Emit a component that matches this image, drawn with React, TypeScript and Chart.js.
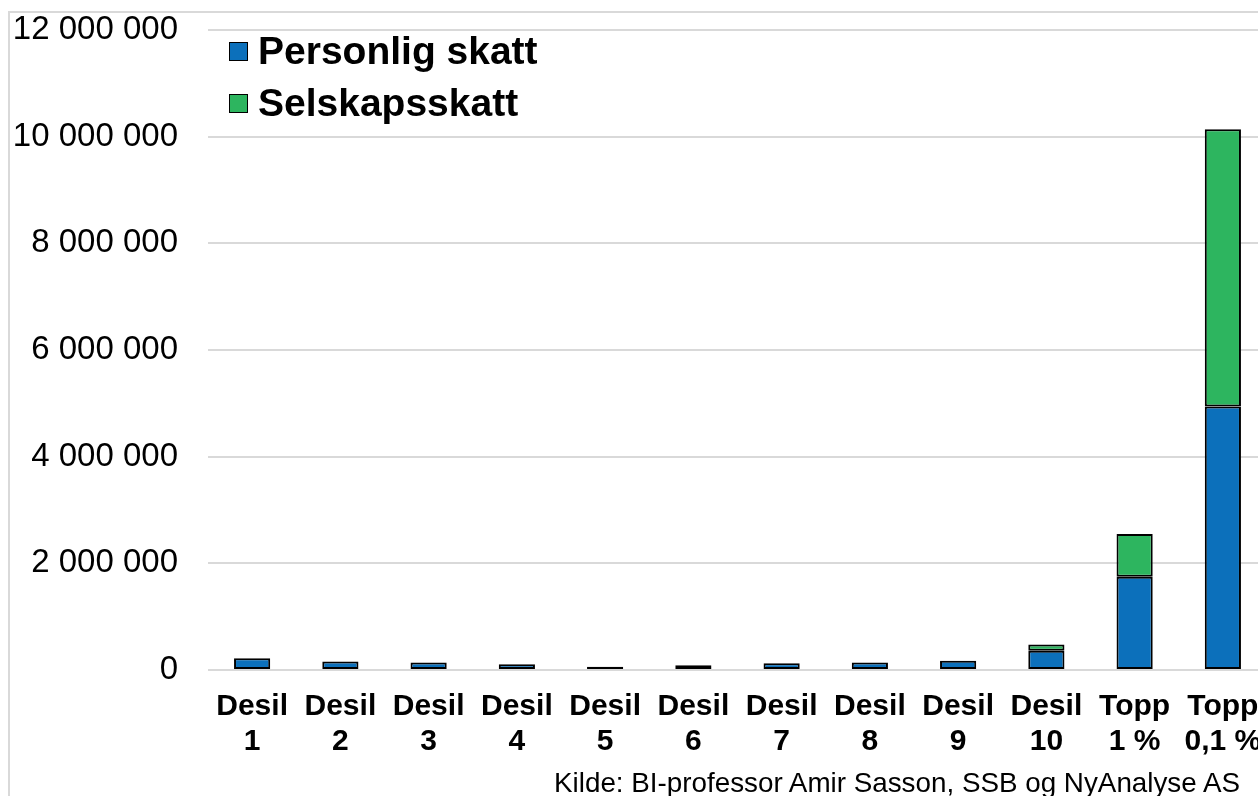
import React, { useEffect, useRef } from "react";
import { Chart, registerables } from "chart.js";

Chart.register(...registerables);

const categories: string[][] = [
  ["Desil", "1"], ["Desil", "2"], ["Desil", "3"], ["Desil", "4"], ["Desil", "5"], ["Desil", "6"],
  ["Desil", "7"], ["Desil", "8"], ["Desil", "9"], ["Desil", "10"], ["Topp", "1 %"], ["Topp", "0,1 %"],
];
const personligSkatt: (number | null)[] = [220000, 160000, 140000, 110000, 60000, 90000, 125000, 140000, 175000, 360000, 1750000, 4940000];
const selskapsskatt: (number | null)[] = [null, null, null, null, null, null, null, null, null, 120000, 800000, 5200000];
const seriesNames = ["Personlig skatt", "Selskapsskatt"];
const seriesColors = ["#0c70bb", "#2db55f"];
const yMax = 12000000;
const yStep = 2000000;
const sourceText = "Kilde: BI-professor Amir Sasson, SSB og NyAnalyse AS";

const FONT = '"Liberation Sans", Arial, sans-serif';
const CANVAS_W = 1300;
const CANVAS_H = 796;
const PLOT_LEFT = 208;
const PLOT_RIGHT = 1267;
const PLOT_TOP = 30;
const PLOT_BOTTOM = 670;

export default function App() {
  const ref = useRef<HTMLCanvasElement | null>(null);

  useEffect(() => {
    document.body.style.margin = "0";
    document.body.style.overflow = "hidden";
    const canvas = ref.current;
    if (!canvas) return;
    const chart = new Chart(canvas, {
      type: "bar",
      data: {
        labels: categories,
        datasets: [
          {
            label: seriesNames[0],
            data: personligSkatt,
            backgroundColor: seriesColors[0],
            borderColor: "#000000",
            borderWidth: 2,
            borderSkipped: false,
          },
          {
            label: seriesNames[1],
            data: selskapsskatt,
            backgroundColor: seriesColors[1],
            borderColor: "#000000",
            borderWidth: 2,
            borderSkipped: false,
          },
        ],
      },
      options: {
        responsive: false,
        animation: false,
        devicePixelRatio: 1,
        layout: { padding: { top: PLOT_TOP, right: CANVAS_W - PLOT_RIGHT, bottom: 0, left: 0 } },
        datasets: { bar: { categoryPercentage: 1, barPercentage: 0.41 } },
        plugins: { legend: { display: false }, tooltip: { enabled: false } },
        scales: {
          x: {
            stacked: true,
            grid: { display: false, drawTicks: false },
            border: { display: false },
            ticks: {
              color: "#000000",
              font: { family: FONT, size: 30, weight: "bold", lineHeight: 1.17 },
              padding: 19,
              maxRotation: 0,
              autoSkip: false,
            },
            afterFit: (scale: any) => {
              scale.height = CANVAS_H - PLOT_BOTTOM;
              scale.paddingLeft = 0;
              scale.paddingRight = 0;
            },
          },
          y: {
            stacked: true,
            min: 0,
            max: yMax,
            grid: { color: "#d9d9d9", lineWidth: 2, drawTicks: false },
            border: { display: false },
            ticks: {
              stepSize: yStep,
              color: "#000000",
              padding: 30,
              font: { family: FONT, size: 33 },
              callback: (v: any) => String(v).replace(/\B(?=(\d{3})+(?!\d))/g, " "),
            },
            afterFit: (scale: any) => {
              scale.width = PLOT_LEFT;
              scale.paddingTop = 0;
              scale.paddingBottom = 0;
            },
          },
        },
      },
    });
    return () => chart.destroy();
  }, []);

  const legendRow = (i: number, top: number) => (
    <div key={i} style={{ position: "absolute", left: 229, top, display: "flex", alignItems: "center", height: 40 }}>
      <div style={{ width: 17, height: 17, background: seriesColors[i], border: "1.5px solid #000", marginRight: 10 }} />
      <span style={{ fontFamily: FONT, fontWeight: "bold", fontSize: 39, color: "#000", lineHeight: "40px" }}>{seriesNames[i]}</span>
    </div>
  );

  return (
    <div style={{ position: "fixed", left: 0, top: 0, width: 1258, height: 796, overflow: "hidden", background: "#fff" }}>
      <div style={{ position: "absolute", left: 8, top: 11, width: 1400, height: 900, borderLeft: "2px solid #d9d9d9", borderTop: "2px solid #d9d9d9" }} />
      <canvas ref={ref} width={CANVAS_W} height={CANVAS_H} style={{ position: "absolute", left: 0, top: 0 }} />
      {legendRow(0, 31)}
      {legendRow(1, 83)}
      <div style={{ position: "absolute", right: 18, top: 767, fontFamily: FONT, fontSize: 27.8, color: "#000", whiteSpace: "nowrap" }}>{sourceText}</div>
    </div>
  );
}
